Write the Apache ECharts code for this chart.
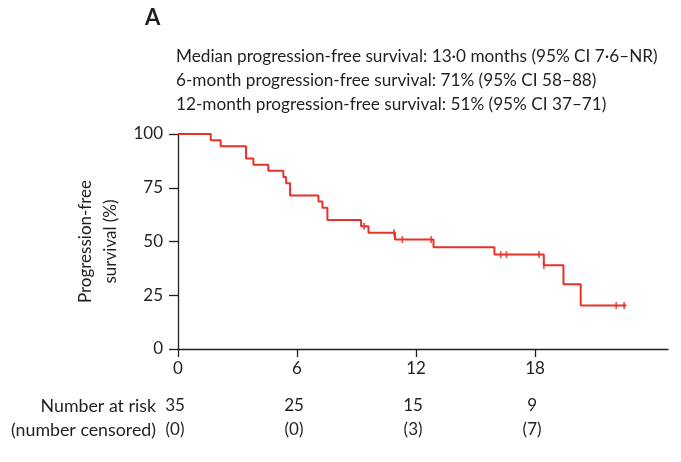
<!DOCTYPE html>
<html><head><meta charset="utf-8">
<script src="https://cdn.jsdelivr.net/npm/echarts@6/dist/echarts.min.js"></script>
<style>html,body{margin:0;padding:0;background:#fff}#c{width:681px;height:462px}</style>
</head><body><div id="c"></div>
<script>
const months = [0,1.65,2.15,3.43,3.8,4.55,5.31,5.45,5.65,7.08,7.28,7.53,9.23,9.6,10.94,12.88,15.95,18.44,19.43,20.3,22.6];
const pfs = [100,97.1,94.3,88.6,85.7,82.9,80.0,77.1,71.4,68.6,65.7,60.0,57.1,54.1,50.9,47.3,43.9,38.9,30.1,20.2,20.2];
const censorMonths = [9.38,10.89,11.31,12.76,16.27,16.56,18.2,18.44,22.09,22.49];
const censorPfs = [57.1,54.1,50.9,50.9,43.9,43.9,43.9,38.9,20.2,20.2];
const xTicks = [0,6,12,18];
const yTicks = [0,25,50,75,100];
const atRisk = ['35','25','15','9'];
const censoredAt = ['(0)','(0)','(3)','(7)'];
const summary = [
  'Median progression-free survival: 13·0 months (95% CI 7·6–NR)',
  '6-month progression-free survival: 71% (95% CI 58–88)',
  '12-month progression-free survival: 51% (95% CI 37–71)'
];
const FONT = 'Lato';
const FS = 17;
const TXT = '#231f20';
const RED = '#e8312b';

const chart = echarts.init(document.getElementById('c'), null, {renderer:'canvas'});
const option = {
  animation:false,
  backgroundColor:'#fff',
  textStyle:{fontFamily:FONT},
  grid:{left:178, right:13, top:134, bottom:113},
  xAxis:{
    type:'value', min:0, max:24.7, interval:6,
    axisLine:{lineStyle:{color:TXT, width:1.3}},
    axisTick:{show:true, length:8, lineStyle:{color:TXT, width:1.3}, customValues:xTicks},
    axisLabel:{color:TXT, fontSize:FS, fontFamily:FONT, margin:11, customValues:xTicks},
    splitLine:{show:false}
  },
  yAxis:{
    type:'value', min:0, max:100, interval:25,
    name:'Progression-free\nsurvival (%)', nameLocation:'middle', nameRotate:90, nameGap:49,
    nameTextStyle:{color:TXT, fontSize:FS, fontFamily:FONT, lineHeight:25},
    axisLine:{show:true, lineStyle:{color:TXT, width:1.3}},
    axisTick:{show:true, length:9, lineStyle:{color:TXT, width:1.3}, customValues:yTicks},
    axisLabel:{color:TXT, fontSize:FS, fontFamily:FONT, margin:15, customValues:yTicks},
    splitLine:{show:false}
  },
  series:[
    {type:'line', step:'end', symbol:'none', data:months.map((m,i)=>[m,pfs[i]]),
     lineStyle:{color:RED, width:2}, z:3},
    {type:'scatter', symbol:'rect', symbolSize:[1.8,7], data:censorMonths.map((m,i)=>[m,censorPfs[i]]),
     itemStyle:{color:RED}, z:4}
  ]
};
chart.setOption(option);

const g = [];
g.push({type:'text', left:145, top:7, style:{text:'A', font:'bold 22px '+FONT, fill:TXT}});
summary.forEach((s,i)=>{
  g.push({type:'text', x:176, y:56+24*i, style:{text:s, font:'17.2px '+FONT, fill:TXT, textVerticalAlign:'middle', textAlign:'left'}});
});
g.push({type:'text', x:156, y:406, style:{text:'Number at risk', font:'17.8px '+FONT, fill:TXT, textAlign:'right', textVerticalAlign:'middle'}});
g.push({type:'text', x:156, y:430, style:{text:'(number censored)', font:'17.8px '+FONT, fill:TXT, textAlign:'right', textVerticalAlign:'middle'}});
xTicks.forEach((t,i)=>{
  const px = chart.convertToPixel({gridIndex:0},[t,0])[0];
  g.push({type:'text', x:px-3, y:406, style:{text:atRisk[i], font:FS+'px '+FONT, fill:TXT, textAlign:'center', textVerticalAlign:'middle'}});
  g.push({type:'text', x:px-3, y:430, style:{text:censoredAt[i], font:FS+'px '+FONT, fill:TXT, textAlign:'center', textVerticalAlign:'middle'}});
});
chart.setOption({graphic:g});
</script></body></html>
